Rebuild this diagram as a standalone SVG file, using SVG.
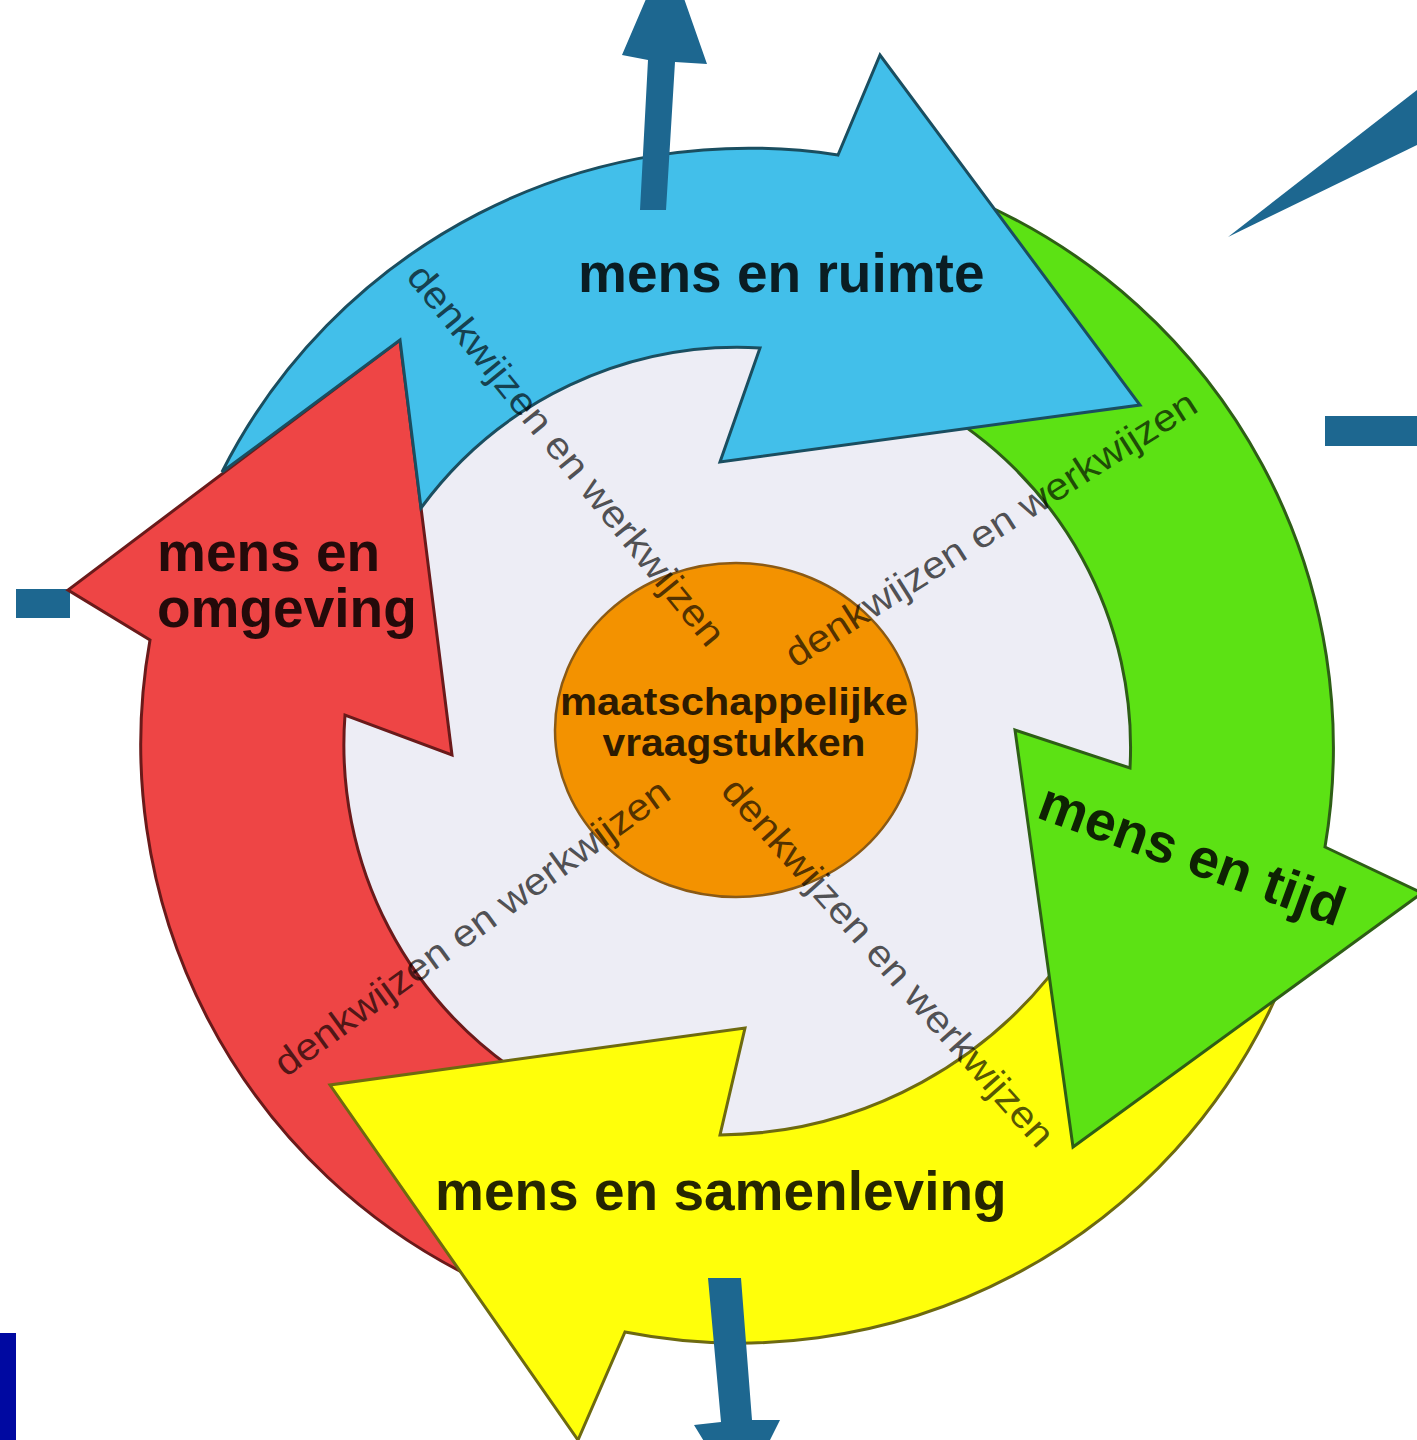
<svg xmlns="http://www.w3.org/2000/svg" width="1417" height="1440" viewBox="0 0 1417 1440">
<style>
.lbl{font-family:"Liberation Sans",Arial,sans-serif;font-weight:bold;font-size:55px;fill:#000;fill-opacity:0.85}
.dw{font-family:"Liberation Sans",Arial,sans-serif;font-size:38px;fill:#000;fill-opacity:0.68}
.ctr{font-family:"Liberation Sans",Arial,sans-serif;font-weight:bold;font-size:38px;fill:#000;fill-opacity:0.82;text-anchor:middle}
.teal{fill:#1D6790}
.arr{stroke-width:3;stroke-linejoin:miter}
</style>
<rect width="1417" height="1440" fill="#ffffff"/>
<circle cx="735" cy="745" r="405" fill="#EDEDF5"/>

<g id="connectors-back">
<rect class="teal" x="16" y="589" width="54" height="29"/>
<rect class="teal" x="1325" y="416" width="92" height="30"/>
<polygon class="teal" points="1228,237 1417,90 1417,145"/>
</g>

<g id="mens-en-omgeving">
<path class="arr" fill="#EE4545" stroke="#6A1A1A" d="M484,1283 A594,594 0 0 1 150,640 L68,590 L400,340 L452,755 L345,715 A395,395 0 0 0 538,1085 Z"/>
<text class="lbl" x="157" y="571">mens en</text>
<text class="lbl" x="157" y="627">omgeving</text>
</g>

<g id="mens-en-samenleving">
<path class="arr" fill="#FFFF0A" stroke="#6E6A10" d="M1280,988 A590,590 0 0 1 625,1332 L578,1440 L330,1085 L745,1028 L720,1135 A430,430 0 0 0 1075,941 Z"/>
<text class="lbl" x="435" y="1210">mens en samenleving</text>
</g>

<g id="mens-en-tijd">
<path class="arr" fill="#5CE214" stroke="#2E5E16" d="M977,201 A597,597 0 0 1 1325,847 L1422,893 L1073,1147 L1015,730 L1130,768 A393,393 0 0 0 931,405 Z"/>
<text class="lbl" transform="translate(1035,817) rotate(20)" x="0" y="0">mens en tijd</text>
</g>

<g id="mens-en-ruimte">
<path class="arr" fill="#42BFEA" stroke="#1A4E60" d="M838,155 L880,55 L1140,405 L720,462 L760,348 A393,393 0 0 0 421,508 L400,340 L222,472 A590,590 0 0 1 838,155 Z"/>
<text class="lbl" x="578" y="292">mens en ruimte</text>
</g>

<g id="maatschappelijke-vraagstukken">
<ellipse cx="736" cy="730" rx="181" ry="167" fill="#F39200" stroke="#8B5A14" stroke-width="2.5"/>
<text class="ctr" x="734" y="715" textLength="348" lengthAdjust="spacingAndGlyphs">maatschappelijke</text>
<text class="ctr" x="734" y="756" textLength="263" lengthAdjust="spacingAndGlyphs">vraagstukken</text>
</g>

<g id="denkwijzen-labels">
<text class="dw" transform="translate(413,271) rotate(50.9)" x="0" y="10" textLength="479" lengthAdjust="spacingAndGlyphs">denkwijzen en werkwijzen</text>
<text class="dw" transform="translate(790,660) rotate(-32.5)" x="0" y="10" textLength="480" lengthAdjust="spacingAndGlyphs">denkwijzen en werkwijzen</text>
<text class="dw" transform="translate(280,1070) rotate(-35.9)" x="0" y="10" textLength="478" lengthAdjust="spacingAndGlyphs">denkwijzen en werkwijzen</text>
<text class="dw" transform="translate(727,785) rotate(48.4)" x="0" y="10" textLength="479" lengthAdjust="spacingAndGlyphs">denkwijzen en werkwijzen</text>
</g>

<g id="connectors">
<polygon class="teal" points="640,210 666,210 675,62 707,64 667,-50 622,55 648,60"/>
<polygon class="teal" points="708,1278 741,1278 752,1420 780,1420 740,1500 694,1425 721,1422"/>
</g>

<rect x="0" y="1333" width="16" height="107" fill="#0009A1"/>
</svg>
